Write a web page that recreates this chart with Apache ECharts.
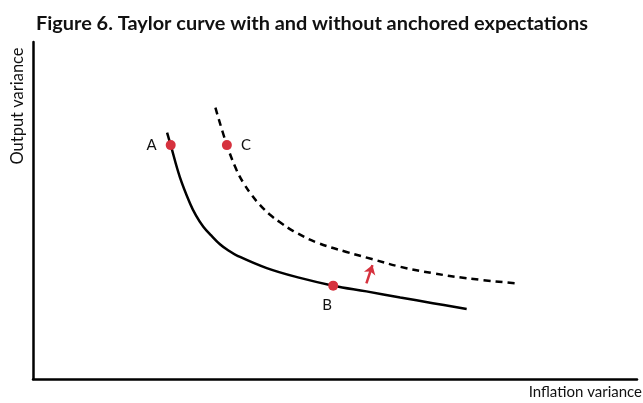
<!DOCTYPE html>
<html><head><meta charset="utf-8">
<script src="https://cdn.jsdelivr.net/npm/echarts@6/dist/echarts.min.js"></script>
<style>html,body{margin:0;padding:0;background:#fff}#c{width:643px;height:403px}</style>
</head><body><div id="c"></div>
<script>
const titleText = "Figure 6. Taylor curve with and without anchored expectations";
const xAxisName = "Inflation variance";
const yAxisName = "Output variance";
// Curve with anchored expectations (solid)
const solidCurve = [[22.2,73.1],[22.8,69.4],[24.3,60.0],[26.0,52.1],[27.0,48.5],[28.2,45.2],[29.5,42.6],[31.0,39.9],[32.3,38.2],[33.7,36.7],[38.7,32.9],[44.2,30.0],[49.7,27.7],[55.2,26.0],[60.8,24.2],[66.2,22.5],[71.8,20.8]];
// Curve without anchored expectations (dashed)
const dashedCurve = [[30.2,80.5],[32.1,69.4],[33.7,62.0],[34.8,58.3],[36.2,54.6],[37.6,51.6],[39.2,48.8],[40.9,46.5],[43.1,43.9],[47.0,40.5],[51.9,37.7],[56.1,35.6],[60.8,33.3],[66.2,31.4],[71.8,29.9],[79.8,28.4]];
const pointNames = ["A","C","B"];
const pointValues = [[22.8,69.4],[32.1,69.4],[49.7,27.7]];
const arrowFrom = [55.2,28.4];
const arrowTo = [56.2,33.8];

const red = '#d6323e';
const labelOpt = {
  A:{position:'left',distance:9},
  C:{position:'right',distance:9},
  B:{position:'bottom',distance:7,offset:[-6,0]}
};
const chart = echarts.init(document.getElementById('c'));
chart.setOption({
  animation:false,
  backgroundColor:'#fff',
  title:{text:titleText,left:31,top:9,textStyle:{fontFamily:'Lato',fontWeight:'bold',fontSize:19.9,color:'#111'}},
  grid:{left:33,right:6,top:42,bottom:24},
  xAxis:{type:'value',min:0,max:100,axisLine:{show:true,onZero:false,lineStyle:{color:'#000',width:2.5}},axisTick:{show:false},axisLabel:{show:false},splitLine:{show:false}},
  yAxis:{type:'value',min:0,max:100,axisLine:{show:true,onZero:false,lineStyle:{color:'#000',width:2.5}},axisTick:{show:false},axisLabel:{show:false},splitLine:{show:false}},
  graphic:[
    {type:'text',right:1,top:385,style:{text:xAxisName,fontFamily:'Lato',fontSize:15,fill:'#111'}},
    {type:'text',x:18,y:106,rotation:Math.PI/2,style:{text:yAxisName,fontFamily:'Lato',fontSize:16.5,fill:'#111',textAlign:'center',textVerticalAlign:'middle'}}
  ],
  series:[
    {type:'line',data:solidCurve,smooth:0.4,showSymbol:false,lineStyle:{color:'#000',width:2.5}},
    {type:'line',data:dashedCurve,smooth:0.4,showSymbol:false,lineStyle:{color:'#000',width:2.5,type:[7,5]}},
    {type:'scatter',z:5,data:pointValues.map((v,i)=>({value:v,name:pointNames[i],label:Object.assign({show:true,formatter:'{b}',fontFamily:'Lato',fontSize:15,color:'#111'},labelOpt[pointNames[i]])})),symbolSize:10,itemStyle:{color:red,opacity:1}},
    {type:'lines',coordinateSystem:'cartesian2d',data:[{coords:[arrowFrom,arrowTo]}],symbol:['none','arrow'],symbolSize:9,lineStyle:{color:red,width:2.5,opacity:1}}
  ]
});
</script></body></html>
